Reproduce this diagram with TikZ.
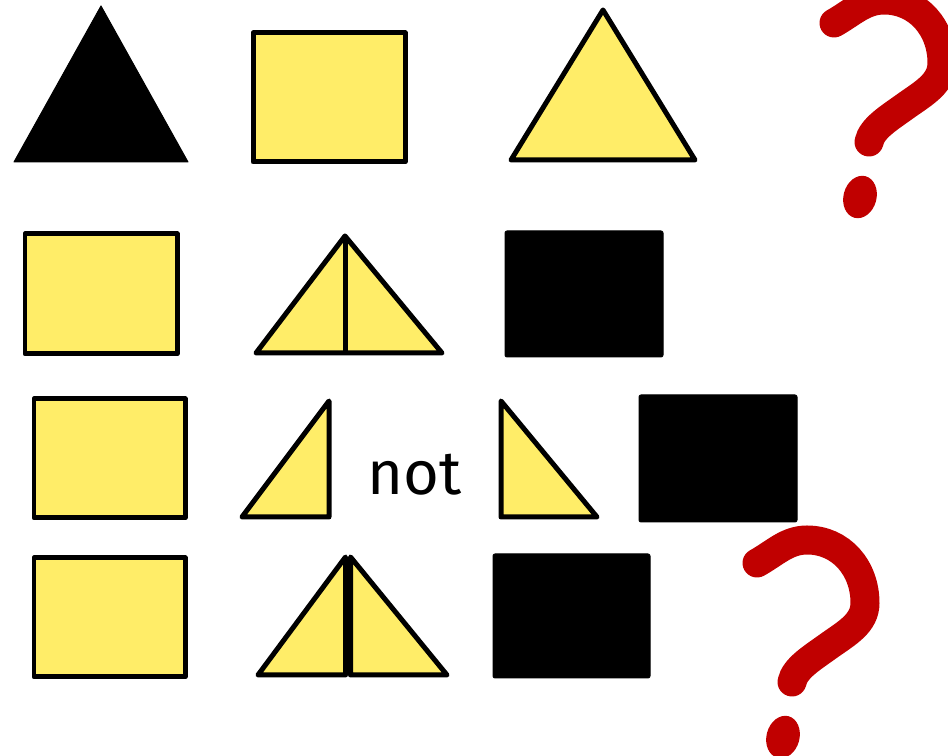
\documentclass[tikz,border=0pt]{standalone}
\usepackage{fontspec}
\newfontfamily\notfont{Fira Sans}
\definecolor{shapeyellow}{RGB}{255,237,104}
\definecolor{qred}{RGB}{192,0,0}
\tikzset{
  yshape/.style={fill=shapeyellow, draw=black, line width=0.1cm, line join=round},
  bshape/.style={fill=black, draw=black, line width=0.02cm, line join=round, rounded corners=0.04cm},
  qstroke/.style={draw=qred, line width=0.58cm, line cap=round},
}
\begin{document}
\begin{tikzpicture}[x=0.02cm, y=-0.02cm]
        \useasboundingbox (0,0) rectangle (948,756);
        % 第一行
        \fill[black, draw=black, line width=0.02cm, line join=round] (101,6) -- (188,162) -- (14,162) -- cycle;
        \draw[yshape] (253,33) rectangle (405,162);
        \draw[yshape] (603,10) -- (695,160) -- (511,160) -- cycle;
        % 第二行
        \draw[yshape] (25,234) rectangle (177,354);
        \draw[yshape] (345,236) -- (442,353) -- (256,353) -- cycle;
        \draw[black, line width=0.1cm] (345,236) -- (345,353);
        \draw[bshape] (505,231) rectangle (663,357);
        % 第三行
        \draw[yshape] (34,399) rectangle (185,518);
        \draw[yshape] (329,401) -- (329,517) -- (242,517) -- cycle;
        \node[anchor=base, font=\notfont\fontsize{35}{40}\selectfont] (notlabel) at (415,495) {not};
        \draw[yshape] (501,401) -- (597,517) -- (501,517) -- cycle;
        \draw[bshape] (639,395) rectangle (797,522);
        % 第四行
        \draw[yshape] (34,558) rectangle (185,677);
        \draw[yshape] (345.5,557) -- (345.5,675) -- (258,675) -- cycle;
        \draw[yshape] (350.5,557) -- (447,675) -- (350.5,675) -- cycle;
        \draw[bshape] (493,554) rectangle (650,678);
        % 两个问号
        \foreach \qx/\qy in {834/23, 757/563} {
          \begin{scope}[shift={(\qx,\qy)}]
            \draw[qstroke] (0,0) .. controls (18,-10) and (30,-23) .. (50,-23)
              .. controls (84,-23) and (108,5) .. (108,40)
              .. controls (108,60) and (90,70) .. (73,82)
              .. controls (55,95) and (38,105) .. (35,119);
            \fill[qred, rotate around={-15:(26,174)}] (26,174) ellipse [x radius=0.33cm, y radius=0.43cm];
          \end{scope}
        }
    \end{tikzpicture}
\end{document}
